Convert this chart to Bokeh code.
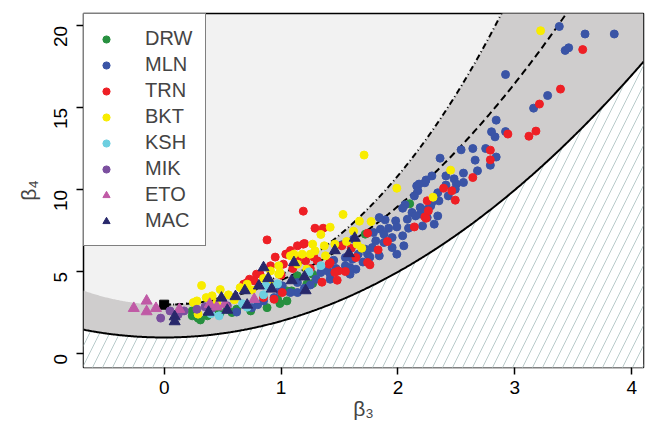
import numpy as np
from bokeh.plotting import figure
from bokeh.models import Range1d, FixedTicker, Legend, LegendItem
from bokeh.embed import file_html
from bokeh.resources import INLINE
import math

# ---------------- data ----------------
drw_x = [2.10, 1.72, 1.27, 1.27, 1.09, 0.24, 0.29, 0.27, 0.48, 0.54, 0.58, 0.62, 0.74,
         0.88, 0.99, 1.05, 1.14, 0.42, 0.31, 0.24, 1.05, 1.22, 0.97, 0.37]
drw_y = [9.15, 7.30, 4.29, 4.86, 3.84, 2.32, 2.18, 2.72, 2.52, 2.72, 2.52, 2.72, 2.62,
         2.82, 3.07, 3.23, 4.76, 2.72, 2.07, 2.62, 3.84, 4.25, 3.33, 2.32]

mln_x = [3.38, 3.60, 3.85, 3.43, 3.46, 2.92, 3.28, 3.16, 2.92, 2.84, 2.80, 2.83, 2.54,
         2.64, 2.75, 2.36, 2.66, 2.84, 2.79, 2.29, 2.41, 2.56, 2.68, 2.48, 2.56, 2.50,
         2.41, 2.34, 2.23, 2.16, 2.17, 2.14, 2.06, 2.04, 2.29, 2.25, 2.35, 2.43, 2.49,
         2.19, 2.12, 2.24, 2.18, 2.19, 2.28, 2.25, 2.15, 2.08, 1.98, 1.89, 1.84, 1.85,
         1.92, 1.99, 2.09, 2.21, 2.31, 2.34, 2.04, 1.95, 1.88, 1.79, 1.81, 1.88, 1.78,
         1.95, 2.05, 1.74, 1.84, 1.99, 1.72, 1.66, 1.61, 1.55, 1.64, 1.59, 1.52, 1.40,
         1.45, 1.55, 1.59, 1.42, 1.14, 1.01, 1.62, 0.99, 1.08, 1.14, 1.34, 1.42, 0.94,
         0.85, 0.75, 0.62, 0.80, 1.20, 1.25, 1.30, 1.47, 1.70, 1.76]
mln_y = [19.96, 19.50, 19.50, 18.50, 18.66, 17.03, 15.75, 14.98, 13.55, 14.25, 13.54,
         13.23, 12.44, 12.52, 12.52, 11.93, 11.81, 12.00, 11.50, 10.85, 10.85, 11.02,
         11.16, 10.67, 10.45, 10.35, 10.29, 9.82, 10.43, 10.24, 9.94, 9.63, 9.09, 8.88,
         9.23, 8.82, 9.33, 9.63, 10.04, 8.52, 8.62, 10.60, 10.35, 8.92, 9.02, 8.31, 8.41,
         8.21, 8.11, 8.17, 8.31, 7.60, 7.66, 7.74, 7.66, 7.80, 7.91, 8.41, 7.20, 7.09,
         7.30, 7.40, 6.89, 6.79, 6.48, 6.48, 6.59, 6.08, 5.98, 6.08, 6.38, 6.08, 5.77,
         5.37, 5.16, 4.86, 6.65, 5.06, 5.71, 5.87, 5.26, 4.55, 3.74, 4.15, 6.99, 3.84,
         3.74, 4.35, 4.96, 4.86, 3.43, 3.23, 2.82, 2.55, 3.00, 4.00, 4.20, 4.55, 5.20,
         5.60, 5.90]

trn_x = [3.58, 3.39, 3.21, 2.94, 3.18, 3.12, 2.79, 2.79, 2.64, 2.39, 2.46, 2.49, 2.25,
         2.26, 2.23, 2.14, 1.91, 1.83, 1.74, 1.64, 1.74, 1.76, 1.41, 1.48, 1.55, 1.35,
         1.19, 1.29, 1.36, 0.88, 1.14, 1.20, 1.04, 1.02, 0.91, 1.14, 1.52, 1.49, 0.79,
         0.77, 0.85, 1.01, 1.42, 0.68, 0.73, 0.71, 0.82, 0.94, 1.05, 1.19, 1.21, 1.31,
         1.46, 1.60, 2.24, 0.95, 1.08, 1.10, 1.25, 1.28, 1.00]
trn_y = [18.55, 16.14, 15.23, 13.40, 13.58, 13.27, 12.42, 11.83, 10.75, 10.10, 9.94,
         9.37, 9.33, 8.72, 8.35, 7.74, 6.85, 6.34, 7.36, 5.87, 5.57, 5.43, 5.47, 4.49,
         5.02, 4.37, 8.70, 7.66, 7.66, 6.95, 6.59, 6.73, 6.08, 5.47, 5.37, 5.77, 6.59,
         5.06, 4.86, 4.45, 3.43, 3.74, 5.57, 4.25, 4.55, 4.35, 4.86, 3.33, 6.08, 6.69,
         5.67, 5.67, 4.96, 6.44, 8.27, 5.90, 6.30, 5.20, 5.20, 5.90, 4.80]

bkt_x = [3.22, 2.45, 1.71, 1.99, 2.30, 1.53, 1.67, 1.77, 1.42, 1.34, 1.62, 1.69, 1.46,
         1.56, 1.27, 1.08, 1.18, 1.29, 0.98, 0.99, 0.91, 1.38, 1.65, 1.22, 1.14, 0.32,
         0.48, 0.41, 0.36, 0.28, 0.25, 0.29, 1.11, 1.25, 1.37, 0.65, 0.71, 0.98, 0.55,
         0.60, 0.85, 0.45, 0.75, 0.90]
bkt_y = [19.70, 11.20, 12.12, 10.10, 9.55, 8.50, 8.09, 8.07, 7.72, 7.28, 7.48, 6.44,
         6.69, 6.85, 6.69, 5.98, 6.08, 6.28, 5.37, 4.96, 5.06, 5.98, 6.69, 5.16, 5.47,
         4.17, 3.92, 3.54, 3.43, 3.23, 3.13, 2.42, 6.08, 6.08, 6.59, 4.04, 4.25, 4.86,
         3.60, 3.30, 4.60, 3.10, 3.90, 4.30]

ksh_x = [0.87, 0.97, 0.67, 0.47, 0.71, 1.34, 1.24, 0.40, 0.85]
ksh_y = [4.15, 4.27, 3.05, 2.32, 2.85, 5.38, 5.00, 2.45, 3.60]

mik_x = [-0.03, 0.05, 0.17, 0.28, 0.35, 0.41, 0.54, 0.12]
mik_y = [2.18, 2.62, 2.62, 2.72, 2.87, 2.78, 2.93, 2.40]

eto_x = [-0.26, -0.15, -0.15, -0.07, 0.13, 0.45, 0.77, 0.52, 0.39]
eto_y = [2.78, 3.23, 2.58, 2.78, 2.72, 2.87, 3.33, 3.03, 3.03]

mac_x = [0.85, 1.11, 1.46, 1.58, 1.63, 0.89, 1.20, 1.21, 0.81, 0.92, 1.09, 0.49, 0.61,
         0.69, 0.38, 0.54, 0.71, 0.09, 0.09]
mac_y = [5.26, 5.57, 6.30, 6.12, 7.06, 4.60, 4.70, 3.86, 4.15, 3.96, 4.47, 3.41, 3.50,
         3.86, 2.55, 2.67, 2.98, 2.27, 1.97]

normal_x = [0.0]
normal_y = [3.0]

x_ticks = [0, 1, 2, 3, 4]
y_ticks = [0, 5, 10, 15, 20]

FONT = "Liberation Sans"
X0, X1 = -0.69, 4.10
Y0, Y1 = -0.83, 20.75

p = figure(width=645, height=424, output_backend="svg", toolbar_location=None,
           x_range=Range1d(X0, X1), y_range=Range1d(Y0, Y1),
           min_border_left=83, min_border_right=2, min_border_top=13,
           min_border_bottom=57)
p.background_fill_color = "#f2f2f2"
p.border_fill_color = "white"
p.outline_line_color = "black"
p.outline_line_width = 1.5
p.grid.visible = False

# theoretical curves
xs = np.linspace(X0, X1, 600)
lower = 1 + xs ** 2
w = np.linspace(1.0, 1.75, 4000)
ln_s = (w + 2) * np.sqrt(w - 1)
ln_k = w ** 4 + 2 * w ** 3 + 3 * w ** 2 - 3
upper = np.minimum(np.interp(np.abs(xs), ln_s, ln_k, right=99), Y1 + 0.5)

p.varea(x=xs, y1=lower, y2=upper, fill_color="#cfcdcd")
p.varea(x=xs, y1=Y0 - 0.5, y2=lower, fill_color="white", hatch_pattern="/",
        hatch_color="#b9cbcb", hatch_scale=20, hatch_weight=1.0)
p.line(xs, lower, line_color="black", line_width=2)
gx = np.linspace(0, 3.6, 300)
p.line(gx, 3 + 1.5 * gx ** 2, line_color="black", line_width=2, line_dash="7 4")
mask = ln_k < Y1 + 1
p.line(ln_s[mask], ln_k[mask], line_color="black", line_width=2, line_dash="6 3 1 3")
p.scatter(normal_x, normal_y, marker="square", size=9, color="black")

series = [
    ("DRW", drw_x, drw_y, "circle", "#27903f", 8),
    ("MLN", mln_x, mln_y, "circle", "#3a54a6", 8),
    ("TRN", trn_x, trn_y, "circle", "#ee1f25", 8),
    ("BKT", bkt_x, bkt_y, "circle", "#f8ec00", 8),
    ("KSH", ksh_x, ksh_y, "circle", "#6dcfe0", 8),
    ("MIK", mik_x, mik_y, "circle", "#7b4f9f", 8),
    ("ETO", eto_x, eto_y, "triangle", "#c05aa6", 11),
    ("MAC", mac_x, mac_y, "triangle", "#28286b", 11),
]
items = []
for name, sx, sy, marker, col, size in series:
    r = p.scatter(sx, sy, marker=marker, size=size, fill_color=col, line_color=col)
    items.append(LegendItem(label=name, renderers=[r]))

legend = Legend(items=items, location="top_left", margin=0, padding=13,
                spacing=3, glyph_width=18, glyph_height=20, label_height=20,
                label_standoff=30, border_line_color="black", border_line_width=1.5,
                background_fill_color="white", background_fill_alpha=1,
                label_text_font=FONT, label_text_font_size="20px")
p.add_layout(legend)

for ax in (p.xaxis[0], p.yaxis[0]):
    ax.axis_line_color = None
    ax.major_tick_in = 0
    ax.major_tick_out = 7
    ax.major_tick_line_width = 1.5
    ax.minor_tick_line_color = None
    ax.major_label_text_font = FONT
    ax.major_label_text_font_size = "19px"
    ax.major_label_text_color = "black"
    ax.axis_label_text_font = FONT
    ax.axis_label_text_font_size = "21px"
    ax.axis_label_text_font_style = "normal"

p.xaxis[0].ticker = FixedTicker(ticks=x_ticks)
p.yaxis[0].ticker = FixedTicker(ticks=y_ticks)
p.xaxis[0].major_label_standoff = 6
p.yaxis[0].major_label_standoff = 16
p.yaxis[0].major_label_orientation = math.pi / 2
p.xaxis[0].axis_label = "β₃"
p.yaxis[0].axis_label = "β₄"
p.xaxis[0].axis_label_standoff = 0
p.yaxis[0].axis_label_standoff = 5

open("out.html", "w").write(file_html(p, INLINE))
